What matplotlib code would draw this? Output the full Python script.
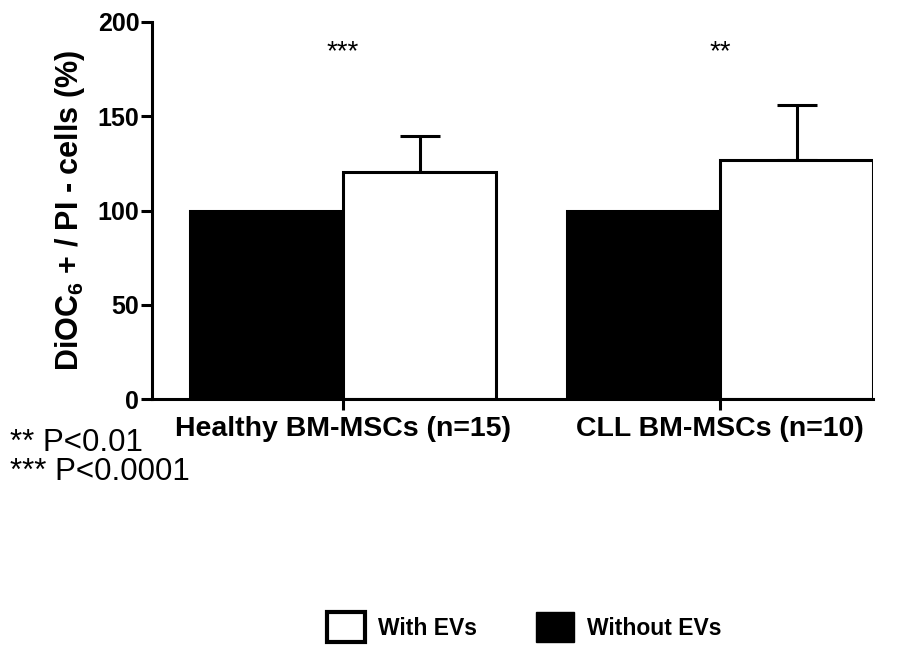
import matplotlib
matplotlib.use("Agg")
import matplotlib.pyplot as plt
from matplotlib.patches import Patch

plt.rcParams['font.family'] = ['Liberation Sans', 'DejaVu Sans']
plt.rcParams['mathtext.fontset'] = 'custom'
plt.rcParams['mathtext.rm'] = 'Liberation Sans'
plt.rcParams['mathtext.bf'] = 'Liberation Sans:bold'

# data
groups = ['Healthy BM-MSCs (n=15)', 'CLL BM-MSCs (n=10)']
without_evs = [100, 100]
with_evs = [120.5, 127]
with_evs_err = [19, 29]
stars = ['***', '**']
yticks = [0, 50, 100, 150, 200]

fig = plt.figure(figsize=(9.04, 6.46), dpi=100)
ax = fig.add_axes([0.168, 0.382, 0.798, 0.584])

w = 0.406
xs = [0, 1]
ax.bar([x - w / 2 for x in xs], without_evs, width=w, color='black',
       edgecolor='black', linewidth=2.2, zorder=2)
ax.bar([x + w / 2 for x in xs], with_evs, width=w, color='white',
       edgecolor='black', linewidth=2.2, zorder=2)
ax.errorbar([x + w / 2 for x in xs], with_evs,
            yerr=[[0, 0], with_evs_err], fmt='none', ecolor='black',
            elinewidth=2.2, capsize=14.5, capthick=2.2, zorder=1)

for x, s in zip(xs, stars):
    ax.text(x, 184, s, ha='center', va='center', fontsize=20)

ax.set_xlim(-0.507, 1.406)
ax.set_ylim(0, 200)
ax.set_yticks(yticks)
ax.set_xticks(xs)
ax.set_xticklabels(groups, fontsize=20.5, fontweight='bold')
ax.set_yticklabels([str(t) for t in yticks], fontsize=18, fontweight='bold')
ax.tick_params(axis='both', direction='out', length=8, width=2.2, pad=1)
ax.tick_params(axis='x', pad=4)

for side in ['top', 'right']:
    ax.spines[side].set_visible(False)
for side in ['left', 'bottom']:
    ax.spines[side].set_linewidth(2.2)

ax.set_ylabel(r'DiOC$_\mathbf{6}$ + / PI - cells (%)', fontsize=22,
              fontweight='bold', labelpad=8)

fig.text(0.011, 0.314, '** P<0.01', fontsize=22.5, va='center')
fig.text(0.011, 0.270, '*** P<0.0001', fontsize=22.5, va='center')

handles = [Patch(facecolor='white', edgecolor='black', linewidth=3),
           Patch(facecolor='black', edgecolor='black')]
fig.legend(handles, ['With EVs', 'Without EVs'], loc='center',
           bbox_to_anchor=(0.58, 0.029), ncol=2, frameon=False,
           prop={'size': 16.5, 'weight': 'bold'}, handlelength=1.65,
           handleheight=1.65, columnspacing=2.6, handletextpad=0.55)

fig.savefig('out.png', dpi=100)
